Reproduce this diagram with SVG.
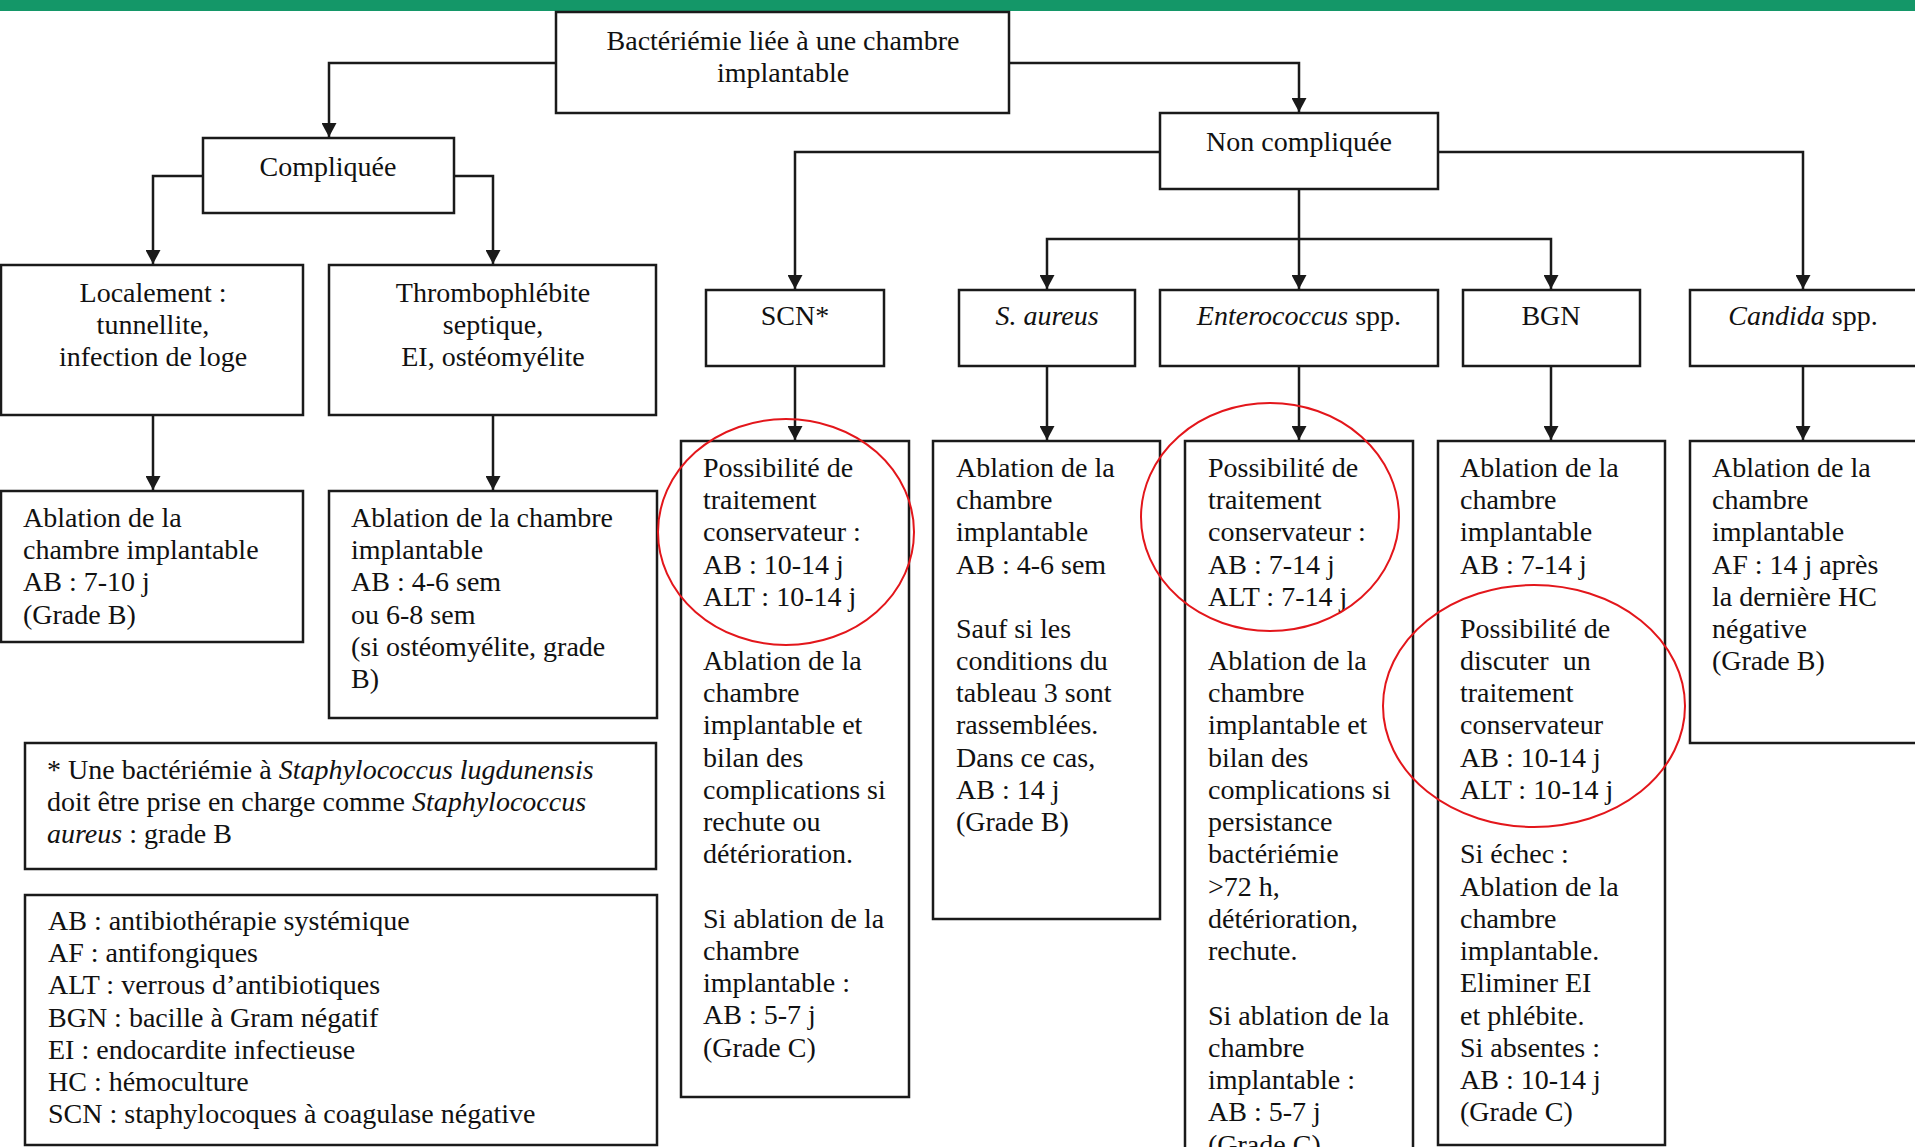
<svg xmlns="http://www.w3.org/2000/svg" width="1915" height="1147" viewBox="0 0 1915 1147">
<defs>
<style>
.box{fill:#fff;stroke:#1a1a1a;stroke-width:2.5}
.t{font-family:"Liberation Serif","Times New Roman",serif;font-size:28px;fill:#111}
.c{text-anchor:middle}
.i{font-style:italic}
.con{fill:none;stroke:#1a1a1a;stroke-width:2.5}
.ring{fill:none;stroke:#e3161b;stroke-width:2}
</style>
<marker id="arr" markerUnits="userSpaceOnUse" markerWidth="14" markerHeight="15" refX="14" refY="7.5" orient="auto" viewBox="0 0 14 15">
<path d="M0,0 L14,7.5 L0,15 z" fill="#1a1a1a"/>
</marker>
</defs>
<rect x="0" y="0" width="1915" height="1147" fill="#fff"/>
<rect x="0" y="0" width="1915" height="11" fill="#149768"/>

<g id="connectors">
<path class="con" d="M556,63 H329 V137" marker-end="url(#arr)"/>
<path class="con" d="M1009,63 H1299 V112" marker-end="url(#arr)"/>
<path class="con" d="M203,176 H153 V264" marker-end="url(#arr)"/>
<path class="con" d="M454,176 H493 V264" marker-end="url(#arr)"/>
<path class="con" d="M153,415 V490" marker-end="url(#arr)"/>
<path class="con" d="M493,415 V490" marker-end="url(#arr)"/>
<path class="con" d="M1160,152 H795 V289" marker-end="url(#arr)"/>
<path class="con" d="M1438,152 H1803 V289" marker-end="url(#arr)"/>
<path class="con" d="M1299,189 V289" marker-end="url(#arr)"/>
<path class="con" d="M1299,239 H1047 V289" marker-end="url(#arr)"/>
<path class="con" d="M1299,239 H1551 V289" marker-end="url(#arr)"/>
<path class="con" d="M795,366 V440" marker-end="url(#arr)"/>
<path class="con" d="M1047,366 V440" marker-end="url(#arr)"/>
<path class="con" d="M1299,366 V440" marker-end="url(#arr)"/>
<path class="con" d="M1551,366 V440" marker-end="url(#arr)"/>
<path class="con" d="M1803,366 V440" marker-end="url(#arr)"/>
</g>

<g id="root">
<rect class="box" x="556" y="12" width="453" height="101"/>
<text class="t c"><tspan x="783" y="50">Bactériémie liée à une chambre</tspan><tspan x="783" y="82">implantable</tspan></text>
</g>

<g id="compliquee">
<rect class="box" x="203" y="138" width="251" height="75"/>
<text class="t c" x="328" y="176">Compliquée</text>
</g>

<g id="non-compliquee">
<rect class="box" x="1160" y="113" width="278" height="76"/>
<text class="t c" x="1299" y="151">Non compliquée</text>
</g>

<g id="localement">
<rect class="box" x="1" y="265" width="302" height="150"/>
<text class="t c"><tspan x="153" y="302">Localement :</tspan><tspan x="153" y="334">tunnellite,</tspan><tspan x="153" y="366">infection de loge</tspan></text>
</g>

<g id="thrombophlebite">
<rect class="box" x="329" y="265" width="327" height="150"/>
<text class="t c"><tspan x="493" y="302">Thrombophlébite</tspan><tspan x="493" y="334">septique,</tspan><tspan x="493" y="366">EI, ostéomyélite</tspan></text>
</g>

<g id="ablation-local">
<rect class="box" x="1" y="491" width="302" height="151"/>
<text class="t"><tspan x="23" y="527">Ablation de la</tspan><tspan x="23" y="559">chambre implantable</tspan><tspan x="23" y="591">AB : 7-10 j</tspan><tspan x="23" y="624">(Grade B)</tspan></text>
</g>

<g id="ablation-thrombo">
<rect class="box" x="329" y="491" width="328" height="227"/>
<text class="t"><tspan x="351" y="527">Ablation de la chambre</tspan><tspan x="351" y="559">implantable</tspan><tspan x="351" y="591">AB : 4-6 sem</tspan><tspan x="351" y="624">ou 6-8 sem</tspan><tspan x="351" y="656">(si ostéomyélite, grade</tspan><tspan x="351" y="688">B)</tspan></text>
</g>

<g id="footnote">
<rect class="box" x="25" y="743" width="631" height="126"/>
<text class="t"><tspan x="47" y="779">* Une bactériémie à <tspan class="i">Staphylococcus lugdunensis</tspan></tspan><tspan x="47" y="811">doit être prise en charge comme <tspan class="i">Staphylococcus</tspan></tspan><tspan x="47" y="843"><tspan class="i">aureus</tspan> : grade B</tspan></text>
</g>

<g id="legend">
<rect class="box" x="25" y="895" width="632" height="250"/>
<text class="t"><tspan x="48" y="930">AB : antibiothérapie systémique</tspan><tspan x="48" y="962">AF : antifongiques</tspan><tspan x="48" y="994">ALT : verrous d’antibiotiques</tspan><tspan x="48" y="1027">BGN : bacille à Gram négatif</tspan><tspan x="48" y="1059">EI : endocardite infectieuse</tspan><tspan x="48" y="1091">HC : hémoculture</tspan><tspan x="48" y="1123">SCN : staphylocoques à coagulase négative</tspan></text>
</g>

<g id="scn">
<rect class="box" x="706" y="290" width="178" height="76"/>
<text class="t c" x="795" y="325">SCN*</text>
</g>

<g id="saureus">
<rect class="box" x="959" y="290" width="176" height="76"/>
<text class="t c i" x="1047" y="325">S. aureus</text>
</g>

<g id="enterococcus">
<rect class="box" x="1160" y="290" width="278" height="76"/>
<text class="t c" x="1299" y="325"><tspan class="i">Enterococcus</tspan> spp.</text>
</g>

<g id="bgn">
<rect class="box" x="1463" y="290" width="177" height="76"/>
<text class="t c" x="1551" y="325">BGN</text>
</g>

<g id="candida">
<rect class="box" x="1690" y="290" width="240" height="76"/>
<text class="t c" x="1803" y="325"><tspan class="i">Candida</tspan> spp.</text>
</g>

<g id="scn-treatment">
<rect class="box" x="681" y="441" width="228" height="656"/>
<text class="t"><tspan x="703" y="477">Possibilité de</tspan><tspan x="703" y="509">traitement</tspan><tspan x="703" y="541">conservateur :</tspan><tspan x="703" y="574">AB : 10-14 j</tspan><tspan x="703" y="606">ALT : 10-14 j</tspan><tspan x="703" y="670">Ablation de la</tspan><tspan x="703" y="702">chambre</tspan><tspan x="703" y="734">implantable et</tspan><tspan x="703" y="767">bilan des</tspan><tspan x="703" y="799">complications si</tspan><tspan x="703" y="831">rechute ou</tspan><tspan x="703" y="863">détérioration.</tspan><tspan x="703" y="928">Si ablation de la</tspan><tspan x="703" y="960">chambre</tspan><tspan x="703" y="992">implantable :</tspan><tspan x="703" y="1024">AB : 5-7 j</tspan><tspan x="703" y="1057">(Grade C)</tspan></text>
</g>

<g id="saureus-treatment">
<rect class="box" x="933" y="441" width="227" height="478"/>
<text class="t"><tspan x="956" y="477">Ablation de la</tspan><tspan x="956" y="509">chambre</tspan><tspan x="956" y="541">implantable</tspan><tspan x="956" y="574">AB : 4-6 sem</tspan><tspan x="956" y="638">Sauf si les</tspan><tspan x="956" y="670">conditions du</tspan><tspan x="956" y="702">tableau 3 sont</tspan><tspan x="956" y="734">rassemblées.</tspan><tspan x="956" y="767">Dans ce cas,</tspan><tspan x="956" y="799">AB : 14 j</tspan><tspan x="956" y="831">(Grade B)</tspan></text>
</g>

<g id="enterococcus-treatment">
<rect class="box" x="1185" y="441" width="228" height="740"/>
<text class="t"><tspan x="1208" y="477">Possibilité de</tspan><tspan x="1208" y="509">traitement</tspan><tspan x="1208" y="541">conservateur :</tspan><tspan x="1208" y="574">AB : 7-14 j</tspan><tspan x="1208" y="606">ALT : 7-14 j</tspan><tspan x="1208" y="670">Ablation de la</tspan><tspan x="1208" y="702">chambre</tspan><tspan x="1208" y="734">implantable et</tspan><tspan x="1208" y="767">bilan des</tspan><tspan x="1208" y="799">complications si</tspan><tspan x="1208" y="831">persistance</tspan><tspan x="1208" y="863">bactériémie</tspan><tspan x="1208" y="896">&gt;72 h,</tspan><tspan x="1208" y="928">détérioration,</tspan><tspan x="1208" y="960">rechute.</tspan><tspan x="1208" y="1025">Si ablation de la</tspan><tspan x="1208" y="1057">chambre</tspan><tspan x="1208" y="1089">implantable :</tspan><tspan x="1208" y="1121">AB : 5-7 j</tspan><tspan x="1208" y="1154">(Grade C)</tspan></text>
</g>

<g id="bgn-treatment">
<rect class="box" x="1438" y="441" width="227" height="704"/>
<text class="t" xml:space="preserve"><tspan x="1460" y="477">Ablation de la</tspan><tspan x="1460" y="509">chambre</tspan><tspan x="1460" y="541">implantable</tspan><tspan x="1460" y="574">AB : 7-14 j</tspan><tspan x="1460" y="638">Possibilité de</tspan><tspan x="1460" y="670">discuter  un</tspan><tspan x="1460" y="702">traitement</tspan><tspan x="1460" y="734">conservateur</tspan><tspan x="1460" y="767">AB : 10-14 j</tspan><tspan x="1460" y="799">ALT : 10-14 j</tspan><tspan x="1460" y="863">Si échec :</tspan><tspan x="1460" y="896">Ablation de la</tspan><tspan x="1460" y="928">chambre</tspan><tspan x="1460" y="960">implantable.</tspan><tspan x="1460" y="992">Eliminer EI</tspan><tspan x="1460" y="1025">et phlébite.</tspan><tspan x="1460" y="1057">Si absentes :</tspan><tspan x="1460" y="1089">AB : 10-14 j</tspan><tspan x="1460" y="1121">(Grade C)</tspan></text>
</g>

<g id="candida-treatment">
<rect class="box" x="1690" y="441" width="240" height="302"/>
<text class="t"><tspan x="1712" y="477">Ablation de la</tspan><tspan x="1712" y="509">chambre</tspan><tspan x="1712" y="541">implantable</tspan><tspan x="1712" y="574">AF : 14 j après</tspan><tspan x="1712" y="606">la dernière HC</tspan><tspan x="1712" y="638">négative</tspan><tspan x="1712" y="670">(Grade B)</tspan></text>
</g>

<g id="highlights">
<ellipse class="ring" cx="786" cy="532" rx="128" ry="113"/>
<ellipse class="ring" cx="1270" cy="517" rx="129" ry="114"/>
<ellipse class="ring" cx="1534" cy="706" rx="151" ry="121"/>
</g>
</svg>
